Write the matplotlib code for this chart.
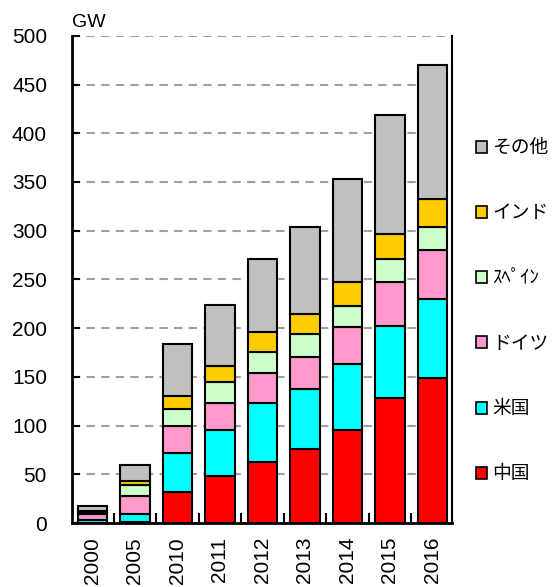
import matplotlib
matplotlib.use('Agg')
import matplotlib.pyplot as plt
from matplotlib.patches import Patch
import numpy as np

plt.rcParams['font.family'] = ['Liberation Sans', 'Noto Sans CJK JP', 'DejaVu Sans']

years = ['2000', '2005', '2010', '2011', '2012', '2013', '2014', '2015', '2016']
china = [0.35, 1.3, 31.8, 48.5, 62.9, 75.6, 95.4, 128.2, 148.7]
usa = [2.5, 8.3, 40.0, 47.2, 60.1, 62.1, 67.6, 74.5, 81.7]
germany = [6.1, 18.1, 27.4, 27.7, 30.8, 32.6, 38.0, 44.2, 49.3]
spain = [2.2, 10.9, 18.0, 21.2, 22.2, 23.5, 21.9, 23.9, 23.6]
india = [1.2, 4.1, 13.1, 16.4, 19.9, 20.9, 24.0, 25.9, 29.3]
other = [5.0, 16.8, 53.3, 62.6, 75.1, 89.2, 106.3, 122.1, 137.1]

series = [
    ('中国', china, '#ff0000'),
    ('米国', usa, '#00ffff'),
    ('ドイツ', germany, '#ff99cc'),
    ('ｽﾍﾟｲﾝ', spain, '#ccffcc'),
    ('インド', india, '#ffcc00'),
    ('その他', other, '#c0c0c0'),
]

fig = plt.figure(figsize=(5.54, 5.87), dpi=100)
ax = fig.add_axes([0.130, 0.109, 0.686, 0.830])

x = np.arange(len(years))
bottom = np.zeros(len(years))
for name, vals, col in series:
    ax.bar(x, vals, 0.69, bottom=bottom, color=col, edgecolor='black',
           linewidth=1.5, zorder=3)
    bottom += np.array(vals)

ax.set_ylim(0, 500)
ax.set_xlim(-0.48, 8.46)
ax.set_yticks(range(0, 501, 50))
ax.tick_params(axis='y', direction='in', length=6, width=1.5, labelsize=15, pad=18)
for v in range(50, 501, 50):
    ax.axhline(v, color='#a0a0a0', linestyle=(0, (4, 3)), linewidth=1.5, zorder=1)

ax.set_xticks(x)
ax.set_xticklabels(years, rotation=90, fontsize=15)
ax.tick_params(axis='x', length=0, pad=10)
ax.set_xticks(x[:-1] + 0.5, minor=True)
ax.tick_params(axis='x', which='minor', direction='in', length=7, width=1.5)

ax.spines['top'].set_visible(False)
ax.spines['left'].set_linewidth(2)
ax.spines['bottom'].set_linewidth(2)
ax.spines['right'].set_linewidth(1.5)

ax.text(0.0, 1.01, 'GW', transform=ax.transAxes, fontsize=14, ha='left', va='bottom')

handles = [Patch(facecolor=c, edgecolor='black', linewidth=1.2, label=n)
           for n, v, c in reversed(series)]
fig.legend(handles=handles, loc='upper left', bbox_to_anchor=(0.845, 0.779),
           frameon=False, prop={'family': ['Noto Sans CJK JP'], 'size': 13.5},
           handlelength=0.6, handleheight=0.6, handletextpad=0.3,
           labelspacing=2.36, borderaxespad=0)

fig.savefig('out.png', dpi=100)
